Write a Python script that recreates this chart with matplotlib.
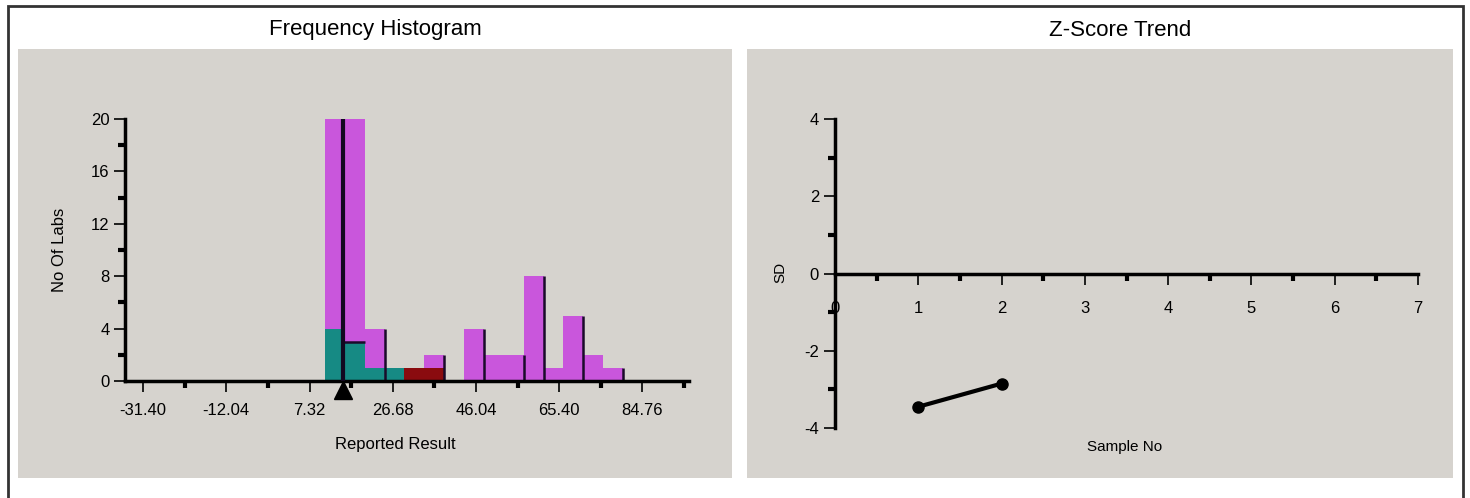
#!/usr/bin/env python3

import matplotlib
matplotlib.use("Agg")
import matplotlib.pyplot as plt
import matplotlib.transforms as mtransforms
from matplotlib.patches import Rectangle
import numpy as np

plt.rcParams['font.family'] = ['Liberation Sans Narrow', 'Liberation Sans', 'DejaVu Sans']
plt.rcParams['axes.unicode_minus'] = False

# histogram bins (left edge of each bin) and counts per group
bin_starts = [10.9, 15.5, 20.2, 24.8, 29.4, 34.0, 38.7, 43.3, 47.9, 52.5, 57.2, 61.8, 66.4, 71.0, 75.7]
bin_width = 4.62
teal_counts = [4, 3, 1, 1, 0, 0, 0, 0, 0, 0, 0, 0, 0, 0, 0]
red_counts = [0, 0, 0, 0, 1, 1, 0, 0, 0, 0, 0, 0, 0, 0, 0]
violet_counts = [16, 17, 3, 0, 0, 1, 0, 4, 2, 2, 8, 1, 5, 2, 1]
outlined_bins = [2, 5, 7, 9, 10, 12, 14]
target_value = 15.1
hist_ticks = [-31.40, -12.04, 7.32, 26.68, 46.04, 65.40, 84.76]

# z-score trend
sample_no = [1, 2]
z_scores = [-3.45, -2.85]

W, H = 1470, 498
bg = '#d6d3ce'
violet = '#c956dc'
teal = '#168a84'
darkred = '#8a0b0f'

fig = plt.figure(figsize=(W / 100, H / 100), dpi=100)
fig.patch.set_facecolor('white')

def px(x0, y0, x1, y1):
    # figure-fraction rectangle from pixel box
    return [x0 / W, 1 - y1 / H, (x1 - x0) / W, (y1 - y0) / H]

# outer frame and panel backgrounds
fig.patches.append(Rectangle((8 / W, -0.05), (1463 - 8) / W, 1.05 - 6 / H,
                             transform=fig.transFigure, fill=False,
                             edgecolor='#333333', linewidth=2, zorder=-1))
for box in [(18, 49, 732, 478), (747, 49, 1453, 478)]:
    r = px(*box)
    fig.patches.append(Rectangle((r[0], r[1]), r[2], r[3], transform=fig.transFigure,
                                 facecolor=bg, edgecolor='none', zorder=-2))

fig.text(375 / W, 1 - 30 / H, "Frequency Histogram", ha='center', va='center', fontsize=16)
fig.text(1120 / W, 1 - 30 / H, "Z-Score Trend", ha='center', va='center', fontsize=16)

# ---- histogram ----
ax = fig.add_axes(px(125, 119, 689, 381))
ax.patch.set_alpha(0)
teal_c = np.array(teal_counts)
red_c = np.array(red_counts)
vio_c = np.array(violet_counts)
ax.bar(bin_starts, teal_c, width=bin_width, align='edge', color=teal, linewidth=0)
ax.bar(bin_starts, red_c, width=bin_width, align='edge', bottom=teal_c, color=darkred, linewidth=0)
ax.bar(bin_starts, vio_c, width=bin_width, align='edge', bottom=teal_c + red_c, color=violet, linewidth=0)
totals = teal_c + red_c + vio_c
for i in outlined_bins:
    ax.vlines(bin_starts[i] + bin_width, 0, totals[i], color='#1a0a2a', linewidth=1.8)
# top edge of the teal part in the bin holding the target
ax.hlines(teal_counts[1], target_value, bin_starts[1] + bin_width, color='#1a0a2a', linewidth=1.8)
ax.vlines(target_value, 0, 20, color='#120820', linewidth=3, zorder=5)
trans = mtransforms.blended_transform_factory(ax.transData, ax.transAxes)
ax.plot([target_value], [-0.035], marker='^', color='black', markersize=13,
        transform=trans, clip_on=False, zorder=6)
ax.set_xlim(-35.6, 95.6)
ax.set_ylim(0, 20)
ax.set_xticks(hist_ticks)
ax.set_xticklabels([f"{t:.2f}" for t in hist_ticks])
ax.set_xticks([t + 9.68 for t in hist_ticks], minor=True)
ax.set_yticks([0, 4, 8, 12, 16, 20])
ax.set_yticks([2, 6, 10, 14, 18], minor=True)
for s in ['top', 'right']:
    ax.spines[s].set_visible(False)
for s in ['left', 'bottom']:
    ax.spines[s].set_linewidth(2.5)
ax.tick_params(axis='both', which='major', length=8, width=1.2, labelsize=12, pad=3)
ax.tick_params(axis='x', which='major', pad=8)
ax.tick_params(axis='both', which='minor', length=5, width=3)
ax.set_ylabel("No Of Labs", fontsize=12)
ax.yaxis.set_label_coords(-0.103, 0.5)
ax.set_xlabel("Reported Result", fontsize=12)
ax.xaxis.set_label_coords(0.479, -0.215)

# ---- z-score trend ----
az = fig.add_axes(px(835, 119, 1418, 428))
az.patch.set_alpha(0)
az.plot(sample_no, z_scores, color='black', linewidth=3, marker='o', markersize=8)
az.set_xlim(0, 7)
az.set_ylim(-4, 4)
az.spines['bottom'].set_position(('data', 0))
for s in ['top', 'right']:
    az.spines[s].set_visible(False)
for s in ['left', 'bottom']:
    az.spines[s].set_linewidth(2.5)
az.set_xticks(range(0, 8))
az.set_xticks(np.arange(0.5, 7, 1.0), minor=True)
az.set_yticks([-4, -2, 0, 2, 4])
az.set_yticks([-3, -1, 1, 3], minor=True)
az.tick_params(axis='both', which='major', length=8, width=1.2, labelsize=12)
az.tick_params(axis='x', which='major', pad=12)
az.tick_params(axis='both', which='minor', length=5, width=3)
az.set_ylabel("SD", fontsize=11)
az.yaxis.set_label_coords(-0.082, 0.505)
az.set_xlabel("Sample No", fontsize=11)
az.xaxis.set_label_coords(0.497, -0.04)

fig.savefig("out.png", dpi=100)
plt.close(fig)
